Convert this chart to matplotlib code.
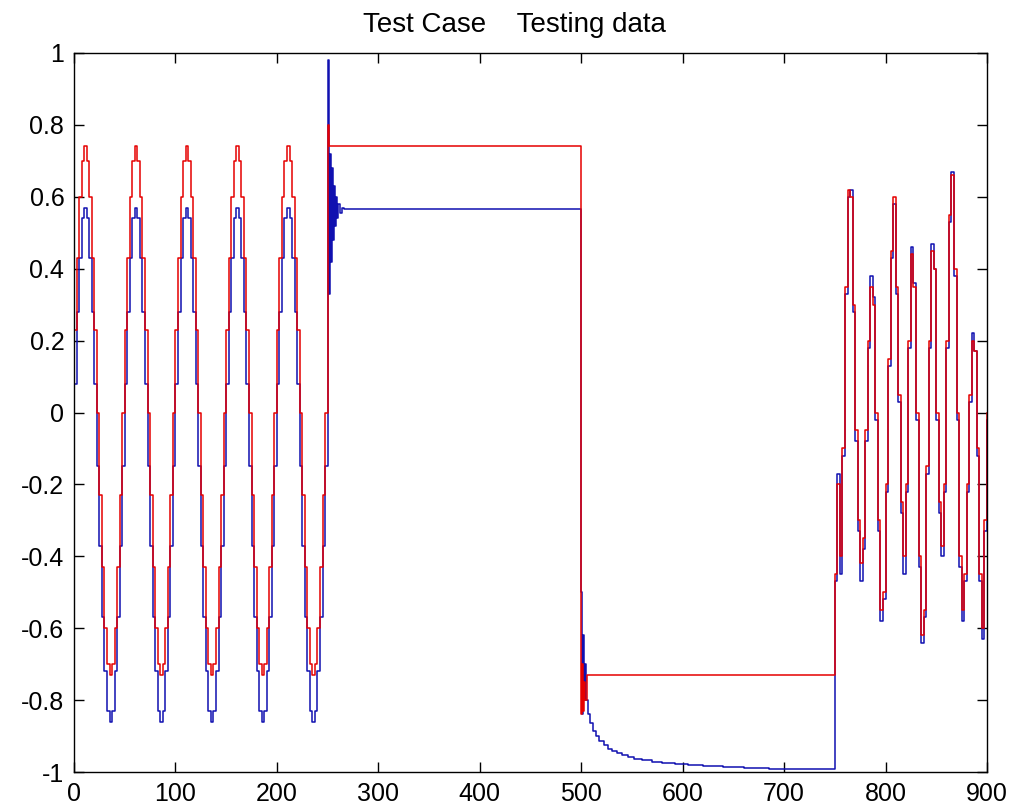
import numpy as np
import matplotlib.pyplot as plt

plt.rcParams['font.family'] = ['Liberation Sans', 'DejaVu Sans']

# part 1: sinusoid, one sample every 2.5
t_sine = np.arange(0, 250, 2.5)
red_sine = [
    0.23, 0.43, 0.60, 0.70, 0.74, 0.70, 0.60, 0.43, 0.23, 0.00, -0.23, -0.43, -0.60, -0.70, -0.73, -0.70, -0.60, -0.43, -0.23, 0.00,
    0.23, 0.43, 0.60, 0.70, 0.74, 0.70, 0.60, 0.43, 0.23, 0.00, -0.23, -0.43, -0.60, -0.70, -0.73, -0.70, -0.60, -0.43, -0.23, 0.00,
    0.23, 0.43, 0.60, 0.70, 0.74, 0.70, 0.60, 0.43, 0.23, 0.00, -0.23, -0.43, -0.60, -0.70, -0.73, -0.70, -0.60, -0.43, -0.23, 0.00,
    0.23, 0.43, 0.60, 0.70, 0.74, 0.70, 0.60, 0.43, 0.23, 0.00, -0.23, -0.43, -0.60, -0.70, -0.73, -0.70, -0.60, -0.43, -0.23, 0.00,
    0.23, 0.43, 0.60, 0.70, 0.74, 0.70, 0.60, 0.43, 0.23, 0.00, -0.23, -0.43, -0.60, -0.70, -0.73, -0.70, -0.60, -0.43, -0.23, 0.00,
]
blue_sine = [
    0.08, 0.28, 0.43, 0.54, 0.57, 0.54, 0.43, 0.28, 0.08, -0.15, -0.37, -0.57, -0.72, -0.83, -0.86, -0.83, -0.72, -0.57, -0.37, -0.15,
    0.08, 0.28, 0.43, 0.54, 0.57, 0.54, 0.43, 0.28, 0.08, -0.15, -0.37, -0.57, -0.72, -0.83, -0.86, -0.83, -0.72, -0.57, -0.37, -0.15,
    0.08, 0.28, 0.43, 0.54, 0.57, 0.54, 0.43, 0.28, 0.08, -0.15, -0.37, -0.57, -0.72, -0.83, -0.86, -0.83, -0.72, -0.57, -0.37, -0.15,
    0.08, 0.28, 0.43, 0.54, 0.57, 0.54, 0.43, 0.28, 0.08, -0.15, -0.37, -0.57, -0.72, -0.83, -0.86, -0.83, -0.72, -0.57, -0.37, -0.15,
    0.08, 0.28, 0.43, 0.54, 0.57, 0.54, 0.43, 0.28, 0.08, -0.15, -0.37, -0.57, -0.72, -0.83, -0.86, -0.83, -0.72, -0.57, -0.37, -0.15,
]

# part 2: constant levels with transients (250..750)
red_mid_x = [250, 251.5, 500, 501, 502, 503, 504, 505.5]
red_mid = [0.80, 0.74, -0.84, -0.70, -0.83, -0.75, -0.80, -0.73]
blue_mid_x = [250, 251, 252, 253, 254, 255, 256, 257, 258, 259, 260, 262, 264, 266,
              500, 501, 502, 503, 504, 505, 507, 509, 512, 515, 518, 522, 526, 530, 535,
              540, 546, 552, 560, 570, 580, 592, 605, 620, 640, 660, 685, 710]
blue_mid = [0.98, 0.33, 0.72, 0.42, 0.68, 0.48, 0.63, 0.52, 0.60, 0.54, 0.58, 0.555, 0.57, 0.565,
            -0.50, -0.84, -0.62, -0.80, -0.70, -0.80, -0.84, -0.865, -0.885, -0.90, -0.913,
            -0.925, -0.935, -0.942, -0.948, -0.953, -0.958, -0.963, -0.967, -0.971, -0.975,
            -0.978, -0.981, -0.984, -0.987, -0.989, -0.991, -0.993]

# part 3: mixed signal (750..900), one sample every 2.5
t_tail = np.arange(750, 901, 2.5)
red_tail = [
    -0.45, -0.20, -0.40, -0.10, 0.35, 0.62, 0.60, 0.30, -0.05, -0.30, -0.42, -0.35, -0.05, 0.20, 0.35, 0.30,
    0.00, -0.30, -0.55, -0.50, -0.20, 0.15, 0.45, 0.60, 0.35, 0.05, -0.25, -0.40, -0.20, 0.20, 0.44, 0.35,
    0.00, -0.40, -0.62, -0.55, -0.15, 0.20, 0.45, 0.40, 0.00, -0.25, -0.37, -0.20, 0.20, 0.55, 0.66, 0.40,
    0.00, -0.40, -0.55, -0.45, -0.20, 0.05, 0.20, 0.17, -0.10, -0.45, -0.60, -0.30, 0.00,
]
blue_tail = [
    -0.47, -0.17, -0.45, -0.12, 0.33, 0.60, 0.62, 0.28, -0.08, -0.33, -0.47, -0.38, -0.08, 0.18, 0.38, 0.32,
    -0.02, -0.33, -0.58, -0.52, -0.22, 0.13, 0.43, 0.58, 0.33, 0.03, -0.28, -0.45, -0.22, 0.18, 0.46, 0.36,
    -0.02, -0.43, -0.64, -0.57, -0.17, 0.18, 0.47, 0.40, -0.02, -0.28, -0.40, -0.22, 0.18, 0.53, 0.67, 0.38,
    -0.02, -0.43, -0.58, -0.47, -0.22, 0.03, 0.22, 0.17, -0.12, -0.47, -0.63, -0.33, -0.02,
]

x_ticks = [0, 100, 200, 300, 400, 500, 600, 700, 800, 900]
y_ticks = [-1, -0.8, -0.6, -0.4, -0.2, 0, 0.2, 0.4, 0.6, 0.8, 1]
y_labels = ['-1', '-0.8', '-0.6', '-0.4', '-0.2', '0', '0.2', '0.4', '0.6', '0.8', '1']

red_x = np.concatenate([t_sine, red_mid_x, t_tail])
red_y = np.concatenate([red_sine, red_mid, red_tail])
blue_x = np.concatenate([t_sine, blue_mid_x, t_tail])
blue_y = np.concatenate([blue_sine, blue_mid, blue_tail])

fig = plt.figure(figsize=(10.17, 8.10), dpi=100)
ax = fig.add_axes([74 / 1017, 38 / 810, 913 / 1017, 719 / 810])

ax.plot(blue_x, blue_y, color='#1010b0', lw=1.1, drawstyle='steps-post')
ax.plot(red_x, red_y, color='#e60000', lw=1.1, drawstyle='steps-post')

ax.set_xlim(0, 900)
ax.set_ylim(-1, 1)
ax.set_xticks(x_ticks)
ax.set_xticklabels([str(v) for v in x_ticks])
ax.set_yticks(y_ticks)
ax.set_yticklabels(y_labels)
ax.tick_params(direction='in', top=True, right=True, length=7, width=1.0,
               labelsize=18, pad=7)
for s in ax.spines.values():
    s.set_linewidth(1.0)

fig.text(0.506, 0.960, 'Test Case    Testing data', ha='center', va='baseline', fontsize=20)

fig.savefig('out.png', dpi=100)
